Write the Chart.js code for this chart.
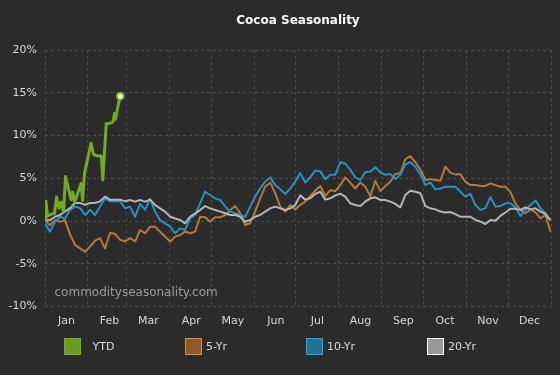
<!DOCTYPE html>
<html>
<head>
<meta charset="utf-8">
<script src="https://cdn.jsdelivr.net/npm/chart.js@4.4.1/dist/chart.umd.min.js"></script>
<style>
html,body{margin:0;padding:0;background:#2b2b2b;}
#wrap{position:relative;width:560px;height:375px;overflow:hidden;}
canvas{display:block;}
.lg{position:absolute;top:338px;height:17px;display:flex;align-items:center;font-family:"DejaVu Sans",sans-serif;font-size:11px;color:#dcdcdc;white-space:nowrap;}
.lg i{display:block;width:17px;height:17px;box-sizing:border-box;border:1.5px solid;}
</style>
</head>
<body>
<div id="wrap">
<canvas id="c" width="560" height="375"></canvas>
<div class="lg" style="left:64px"><i style="background:#6a9d1f;border-color:#78b022"></i><span style="margin-left:11.5px">YTD</span></div>
<div class="lg" style="left:185px"><i style="background:#8b5a2b;border-color:#e88a2a"></i><span style="margin-left:4px">5-Yr</span></div>
<div class="lg" style="left:306px"><i style="background:#246f94;border-color:#27a9e1"></i><span style="margin-left:4px">10-Yr</span></div>
<div class="lg" style="left:427px"><i style="background:#999999;border-color:#ffffff"></i><span style="margin-left:4px">20-Yr</span></div>
</div>
<script>
const chartTitle = 'Cocoa Seasonality';
const watermark = 'commodityseasonality.com';
const monthNames = ['Jan','Feb','Mar','Apr','May','Jun','Jul','Aug','Sep','Oct','Nov','Dec'];
const monthStartDays = [0,31,59,90,120,151,181,212,243,273,304,334,365];
const yTickStep = 5;

const dayOfYear = [0,3.6,7.2,10.8,14.4,18.1,21.7,25.3,28.9,32.5,36.1,39.7,43.3,46.9,50.5,54.2,57.8,61.4,65.0,68.6,72.2,75.8,79.4,83.0,86.6,90.3,93.9,97.5,101.1,104.7,108.3,111.9,115.5,119.1,122.7,126.4,130.0,133.6,137.2,140.8,144.4,148.0,151.6,155.2,158.8,162.5,166.1,169.7,173.3,176.9,180.5,184.1,187.7,191.3,194.9,198.6,202.2,205.8,209.4,213.0,216.6,220.2,223.8,227.4,231.0,234.7,238.3,241.9,245.5,249.1,252.7,256.3,259.9,263.5,267.1,270.8,274.4,278.0,281.6,285.2,288.8,292.4,296.0,299.6,303.2,306.9,310.5,314.1,317.7,321.3,324.9,328.5,332.1,335.7,339.3,343.0,346.6,350.2,353.8,357.4,361.0,364.6];

const fiveYr = [0.1,-0.5,0.1,-0.1,0.1,-1.6,-2.8,-3.2,-3.6,-3.0,-2.3,-2.0,-3.2,-1.4,-1.5,-2.2,-2.4,
-2.0,-2.4,-1.05,-1.44,-0.66,-0.66,-1.25,-1.83,-2.4,-1.83,-1.64,-1.25,-1.44,-1.25,0.5,0.43,-0.08,0.43,0.43,0.7,1.29,1.75,0.9,-0.47,-0.27,1.1,2.65,4.0,4.48,3.24,1.68,1.1,1.87,1.36,1.87,2.26,2.9,3.55,4.1,2.9,3.6,3.5,4.2,5.1,
4.5,3.8,4.5,4.0,2.9,4.7,3.5,4.1,4.6,5.5,5.6,7.2,7.6,6.9,6.0,4.8,4.9,4.8,4.7,6.35,5.65,5.45,5.5,4.6,4.2,4.2,4.1,4.1,4.4,4.2,4.0,4.0,3.4,2.07,1.29,0.9,1.36,1.0,0.3,0.7,-1.25];

const tenYr = [-0.3,-1.25,-0.1,0.5,0.3,1.3,1.7,1.5,0.7,1.3,0.7,1.7,2.65,2.3,2.3,2.3,1.5,
1.68,0.5,2.0,1.3,2.6,1.1,0.1,-0.27,-0.66,-1.44,-0.86,-1.05,0.3,0.7,2.07,3.43,3.04,2.65,2.46,1.68,1.1,0.9,0.7,0.5,1.68,2.85,3.8,4.6,5.1,4.2,3.7,3.16,3.8,4.6,5.6,4.5,5.1,5.9,5.8,4.9,5.4,5.4,6.9,6.7,
6.0,5.1,4.8,5.7,5.8,6.3,5.7,5.4,5.5,4.9,5.4,6.6,6.9,6.35,5.45,4.2,4.5,3.7,3.8,4.0,4.0,4.0,3.43,2.85,3.16,1.87,1.3,1.5,2.8,1.68,1.75,2.07,2.07,1.6,0.6,1.36,1.87,2.4,1.48,0.9,0.1];

const twentyYr = [0.1,0.1,0.5,0.7,1.1,1.5,2.1,2.1,1.9,2.1,2.1,2.3,2.85,2.5,2.5,2.5,2.3,
2.46,2.26,2.46,2.26,2.5,1.87,1.48,1.1,0.5,0.3,0.12,-0.27,0.5,0.9,1.28,1.75,1.48,1.28,1.1,0.9,0.7,0.7,0.5,-0.08,0.12,0.5,0.7,1.1,1.48,1.68,1.48,1.28,1.48,1.87,3.0,2.5,2.65,3.16,3.43,2.5,2.65,3.0,3.2,2.85,
2.07,1.87,1.75,2.26,2.65,2.77,2.46,2.46,2.26,2.0,1.6,3.04,3.55,3.43,3.24,1.75,1.48,1.36,1.1,1.0,1.05,0.8,0.5,0.5,0.5,0.12,-0.08,-0.35,0.12,0.04,0.6,1.0,1.44,1.44,1.3,1.6,1.36,1.48,1.1,0.8,0.1];

const ytdDays = [0,0.7,1.8,4.7,6.9,8.3,10.1,11.6,13.4,14.8,16.6,18.8,19.9,21.3,23.5,26.0,27.1,28.5,30.7,33.2,35.0,38.1,40.6,41.7,44.2,46.6,49.0,50.2,50.9,52.6,54.3];
const ytdValues = [0.2,2.3,0.6,0.8,0.9,2.8,1.5,2.2,1.1,5.2,4.0,2.5,3.4,2.2,3.2,4.4,2.4,5.6,7.2,9.1,7.8,7.6,7.6,4.8,11.4,11.4,11.6,12.6,11.9,13.4,14.6];

const pts = (xs, ys) => xs.map((x, i) => ({x: x, y: ys[i]}));
const font = {family: '"DejaVu Sans", sans-serif', size: 11};
const gridColor = '#4c4c4c';

const watermarkPlugin = {
  id: 'wm',
  beforeDatasetsDraw(chart) {
    const ctx = chart.ctx, a = chart.chartArea;
    ctx.save();
    ctx.font = '12px "DejaVu Sans", sans-serif';
    ctx.fillStyle = '#9d9d9d';
    ctx.textBaseline = 'middle';
    ctx.textAlign = 'left';
    ctx.fillText(watermark, a.left + 9.5, a.bottom - 13.5);
    ctx.restore();
  }
};

new Chart(document.getElementById('c'), {
  type: 'line',
  data: {
    datasets: [
      {label: 'YTD', data: pts(ytdDays, ytdValues), borderColor: '#72ad1f', borderWidth: 3,
       pointRadius: c => c.dataIndex === ytdValues.length - 1 ? 3.5 : 0,
       pointBackgroundColor: '#ffffff', pointBorderColor: '#72ad1f', pointBorderWidth: 2, order: 0},
      {label: '20-Yr', data: pts(dayOfYear, twentyYr), borderColor: '#b5b5b5', borderWidth: 2, pointRadius: 0, order: 1},
      {label: '10-Yr', data: pts(dayOfYear, tenYr), borderColor: '#2a8fc2', borderWidth: 2, pointRadius: 0, order: 2},
      {label: '5-Yr', data: pts(dayOfYear, fiveYr), borderColor: '#b27a3c', borderWidth: 2, pointRadius: 0, order: 3}
    ]
  },
  options: {
    responsive: false,
    animation: false,
    events: [],
    layout: {padding: {left: 0, right: 9, top: 0, bottom: 48.5}},
    elements: {line: {tension: 0, borderJoinStyle: 'round'}},
    plugins: {
      legend: {display: false},
      tooltip: {enabled: false},
      title: {display: true, text: chartTitle, color: '#ffffff', fullSize: false,
        font: {family: '"DejaVu Sans", sans-serif', size: 12, weight: 'bold'},
        padding: {top: 14, bottom: 21.6}}
    },
    scales: {
      x: {
        type: 'linear', min: 0, max: 365,
        afterBuildTicks: s => { s.ticks = monthStartDays.map(v => ({value: v})); },
        afterFit: s => { s.height = 20; },
        grid: {color: gridColor, drawTicks: false, borderDash: [3, 3]},
        border: {display: false, dash: [3, 3]},
        ticks: {autoSkip: false, maxRotation: 0, minRotation: 0, labelOffset: 21.5, padding: 8,
          color: '#d6d6d6', font: font,
          callback: (v, i) => monthNames[i] || ''}
      },
      y: {
        min: -10, max: 20,
        afterFit: s => { s.width = 45; },
        grid: {color: gridColor, drawTicks: false, borderDash: [3, 3]},
        border: {display: false, dash: [3, 3]},
        ticks: {stepSize: yTickStep, padding: 8, color: '#d6d6d6', font: font,
          callback: v => v + '%'}
      }
    }
  },
  plugins: [watermarkPlugin]
});
</script>
</body>
</html>
